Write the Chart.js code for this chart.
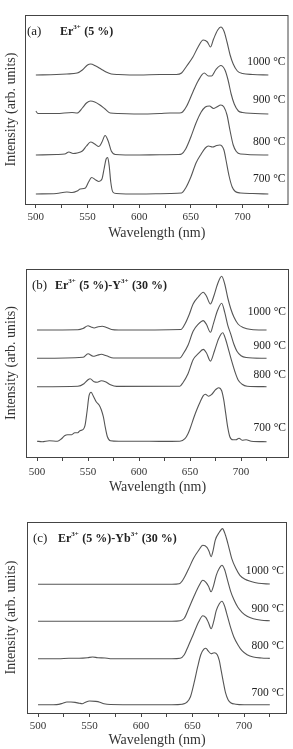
<!DOCTYPE html>
<html>
<head>
<meta charset="utf-8">
<script src="https://cdn.jsdelivr.net/npm/chart.js@4"></script>
<style>
  body { margin: 0; background: #fff; }
  .panel { position: absolute; left: 0; width: 293px; }
</style>
</head>
<body>
<div class="panel" style="top:0"><canvas id="chartA" width="293" height="245"></canvas></div>
<div class="panel" style="top:245px"><canvas id="chartB" width="293" height="252"></canvas></div>
<div class="panel" style="top:497px"><canvas id="chartC" width="293" height="252"></canvas></div>
<script>
// Temperatures (bottom to top) and spectra as [wavelength nm, intensity] pairs
const temps = ["700 °C", "800 °C", "900 °C", "1000 °C"];
const ticksNm = [500, 525, 550, 575, 600, 625, 650, 675, 700, 725];

// (a) Er3+ (5 %)
const offsetsA = [10, 49, 90, 129];
const a700 = [[500,0],[520,0.5],[530,2],[535,1.5],[540,3],[543,5],[548,6],[551,12],[554,16.5],[558,14],[561,12.5],[564,15],[566,25],[568,35],[569.5,36.5],[571,28],[572.5,12],[574.5,2],[578,0.5],[600,0],[630,0.5],[641,1],[645,6],[650,17],[655,31],[660,40],[664,46],[667,48],[671,47],[675,48.5],[678,49],[682,44],[684,34],[687,18],[690,7],[693,2.5],[698,1],[710,0.5],[725,0]];
const a800 = [[500,0],[520,0.5],[528,1],[532,3],[536,1.5],[540,2],[545,4],[549,9],[553,13],[557,11],[561,8.5],[564,13],[567,19.5],[570,14],[573,4],[577,0.5],[600,0],[620,0.3],[638,0.5],[641,1],[645,6],[650,18],[655,32],[660,43],[664,48],[668,49],[672,46.5],[675,48],[679,50],[682,48],[685,40],[688,24],[691,10],[694,3.5],[698,1],[725,0]];
const a900 = [[500,3],[502,0.5],[520,0.5],[535,1.5],[540,1],[545,6],[549,11],[553,13],[557,12],[562,9],[567,5],[572,1],[580,0.5],[600,0],[620,0.5],[630,1],[639,1],[642,2],[646,8],[652,22],[657,33],[663,41],[667,38],[670,38],[674,44],[679,48.5],[683,44],[686,34],[689,20],[692,10],[696,3],[700,1.5],[725,0]];
const a1000 = [[500,0],[520,0.5],[530,1],[540,2],[545,5],[550,10],[553,11],[558,9],[563,6],[568,3],[573,1],[580,0.5],[600,0],[620,0.5],[636,0.5],[641,2],[646,9],[652,18],[657,28],[662,35],[666,33],[669,28],[672,36],[676,45],[679,48],[682,44],[685,33],[688,20],[691,11],[695,4],[700,1.5],[710,0.5],[725,0]];

// (b) Er3+ (5 %)-Y3+ (30 %)
const offsetsB = [15.3, 70.3, 98.7, 127];
const b700 = [[500,0.5],[505,0],[512,1],[520,0.5],[524,3],[527,6],[530,7],[534,7],[537,9],[540,9],[542,11],[545,12],[547,16],[549,30],[551,46],[553,49.5],[555,46],[558,40],[561,36.5],[563,32],[565,25],[567,14],[569,5],[572,1],[580,0.5],[600,0.5],[620,0.3],[640,0.5],[645,3],[648,8],[650,13],[654,25],[657,33],[660,40],[663,46],[665,47.5],[668,45.5],[671,47],[675,52],[678,54],[681,51],[683,42],[685,28],[687,14],[689,5],[692,2],[695,2],[698,3.5],[701,1.5],[705,2],[710,0.5],[725,0]];
const b800 = [[500,0],[540,0.5],[546,3],[550,7],[552,8],[556,5],[559,4.5],[563,6],[567,5],[572,2],[578,0.3],[640,0.5],[643,4],[648,13],[653,27],[658,33],[663,37.3],[666,34],[670,25.6],[674,36],[678,48],[682,54],[685,47],[688,36],[691,25],[694,15],[697,7],[701,2.5],[706,0.5],[725,0]];
const b900 = [[500,0],[545,1],[550,4.5],[555,2],[559,3],[563,4],[568,2.5],[575,0.3],[640,0.3],[643,4],[648,13],[653,27],[658,34],[663,37.7],[666,34],[670,26],[673,35],[677,48],[681,55],[684,46],[687,33],[690,24],[693,14],[696,7],[700,2.5],[705,0.8],[725,0]];
const b1000 = [[500,0],[540,0.3],[545,1.5],[550,4.3],[553,3],[556,2],[560,3.3],[564,3.7],[568,2.5],[573,0.5],[580,0],[641,0.5],[645,6],[649,15],[653,26],[658,33],[663,37.7],[666,34],[670,26],[673,33],[677,46],[681,53.7],[684,46],[687,32],[690,21],[693,13],[697,6],[702,2.5],[710,0.5],[725,0]];

// (c) Er3+ (5 %)-Yb3+ (30 %)
const offsetsC = [8.3, 54.3, 91.7, 128.7];
const c700 = [[500,0],[515,0],[520,0.3],[524,1.5],[528,2.7],[532,2.7],[536,2.3],[540,1.5],[543,1],[546,2.5],[550,3.7],[556,3.3],[560,2.5],[564,1],[570,0.2],[600,0],[630,0],[640,0.5],[644,2],[648,8],[652,24],[655,38],[658,50],[661,55.5],[663,56.5],[665,54],[668,51],[671,52],[674,50],[676,44],[678,33],[680,22],[682,12],[684.5,5],[687,2],[692,0.5],[700,0],[725,0]];
const c800 = [[500,0],[520,0],[530,0.5],[540,0.5],[548,1],[553,1.7],[558,1],[565,0.7],[570,0],[630,0],[638,0.5],[642,4],[646,13],[651,25],[656,37],[660,43],[663,41],[665.5,36],[668,30],[670.5,37],[673,48],[676,55],[678.5,57.4],[681,53],[684,42],[687,31],[690,22],[694,14],[698,8],[703,4],[709,1.7],[717,0.7],[725,0.3]];
const c900 = [[500,0],[630,0],[638,0.5],[642,3],[646,12],[651,24],[656,35],[660,41],[663,39],[665.5,35],[668,29.5],[670.5,36],[673,46],[676,53],[678.5,56],[681,52],[684,41],[687,30],[690,22],[694,14],[698,9],[703,5],[709,2.5],[717,1],[725,0.5]];
const c1000 = [[500,0],[630,0],[637,0.5],[641,5],[646,15],[651,26],[656,34],[660,39],[664,37],[666,33],[668,27.5],[670,34],[672,44],[676,52],[679,55.7],[682,49],[685,38],[688,26],[692,16],[696,9],[701,5],[706,3],[714,1],[725,0.3]];

const serif = "'Liberation Serif', 'DejaVu Serif', serif";
const lineColor = "#555";

// draws box frame, panel tag, formula and temperature labels
const decorPlugin = {
  id: "decor",
  afterDraw(chart) {
    const { ctx, chartArea: ca, scales } = chart;
    const opts = chart.options.plugins.decor;
    ctx.save();
    ctx.strokeStyle = "#444";
    ctx.lineWidth = 1;
    ctx.strokeRect(ca.left + 0.5, ca.top + 0.5, ca.right - ca.left - 1, ca.bottom - ca.top);

    ctx.fillStyle = "#222";
    ctx.textBaseline = "middle";
    ctx.font = "13px " + serif;
    ctx.fillText(opts.tag, ca.left + opts.tagDx, ca.top + 17);

    // formula with superscripts
    let x = ca.left + opts.formulaDx;
    const y = ca.top + 17;
    opts.formula.forEach(([txt, sup]) => {
      ctx.font = "bold " + (sup ? 7 : 12) + "px " + serif;
      ctx.fillText(txt, x, sup ? y - 5 : y);
      x += ctx.measureText(txt).width + (sup ? 0.5 : 0);
    });

    ctx.font = "11.5px " + serif;
    ctx.textAlign = "right";
    temps.forEach((t, i) => {
      const py = scales.y.getPixelForValue(opts.offsets[i] + opts.labelRise[i]);
      ctx.fillText(t, ca.right - 3, py);
    });
    ctx.restore();
  }
};

function makePanel(id, series, offsets, cfg) {
  const datasets = series.map((pts, i) => ({
    data: pts.map(([nm, v]) => ({ x: nm, y: offsets[i] + v })),
    borderColor: lineColor,
    borderWidth: 1.1,
    pointRadius: 0,
    fill: false,
    cubicInterpolationMode: "monotone"
  }));
  return new Chart(document.getElementById(id), {
    type: "line",
    data: { datasets },
    plugins: [decorPlugin],
    options: {
      responsive: false,
      animation: false,
      layout: { padding: { top: cfg.padTop, right: cfg.padRight, left: 0, bottom: 0 } },
      plugins: {
        legend: { display: false },
        tooltip: { enabled: false },
        decor: {
          tag: cfg.tag, tagDx: cfg.tagDx, formula: cfg.formula, formulaDx: cfg.formulaDx,
          offsets, labelRise: cfg.labelRise
        }
      },
      scales: {
        x: {
          type: "linear",
          min: cfg.xMin,
          max: cfg.xMax,
          afterBuildTicks: (s) => { s.ticks = ticksNm.map(v => ({ value: v })); },
          afterFit: (s) => { s.height = cfg.xAxisH; },
          border: { display: false },
          grid: { drawOnChartArea: false, drawTicks: true, tickLength: 4, color: "#444" },
          ticks: {
            autoSkip: false, maxRotation: 0, padding: cfg.tickPad, color: "#333",
            font: { family: serif, size: 11 },
            callback: (v) => (v % 50 === 0 ? String(v) : "")
          },
          title: {
            display: true, text: "Wavelength (nm)", color: "#333",
            font: { family: serif, size: 14 }, padding: { top: 0, bottom: cfg.titlePadBottom }
          }
        },
        y: {
          min: 0,
          max: cfg.yMax,
          afterFit: (s) => { s.width = cfg.yAxisW; },
          border: { display: false },
          grid: { display: false },
          ticks: { display: false },
          title: {
            display: true, text: "Intensity (arb. units)", color: "#333",
            font: { family: serif, size: 14 }, padding: { top: 3, bottom: 0 }
          }
        }
      }
    }
  });
}

makePanel("chartA", [a700, a800, a900, a1000], offsetsA, {
  padTop: 15, padRight: 4.5, xAxisH: 41, yAxisW: 25, yMax: 189,
  xMin: 489.5, xMax: 744.5, tickPad: 3, titlePadBottom: 3.6,
  tag: "(a)", tagDx: 2, formulaDx: 35,
  formula: [["Er", false], ["3+", true], [" (5 %)", false]],
  labelRise: [15, 13, 14, 13]
});

makePanel("chartB", [b700, b800, b900, b1000], offsetsB, {
  padTop: 24, padRight: 4, xAxisH: 40, yAxisW: 26, yMax: 188,
  xMin: 489.2, xMax: 747, tickPad: 5, titlePadBottom: 1.6,
  tag: "(b)", tagDx: 6, formulaDx: 29,
  formula: [["Er", false], ["3+", true], [" (5 %)-Y", false], ["3+", true], [" (30 %)", false]],
  labelRise: [13.5, 11.5, 12, 18]
});

makePanel("chartC", [c700, c800, c900, c1000], offsetsC, {
  padTop: 25, padRight: 6, xAxisH: 36, yAxisW: 27, yMax: 191,
  xMin: 489.3, xMax: 741.7, tickPad: 3, titlePadBottom: 0.6,
  tag: "(c)", tagDx: 6, formulaDx: 31,
  formula: [["Er", false], ["3+", true], [" (5 %)-Yb", false], ["3+", true], [" (30 %)", false]],
  labelRise: [12, 13, 12, 13]
});
</script>
</body>
</html>
